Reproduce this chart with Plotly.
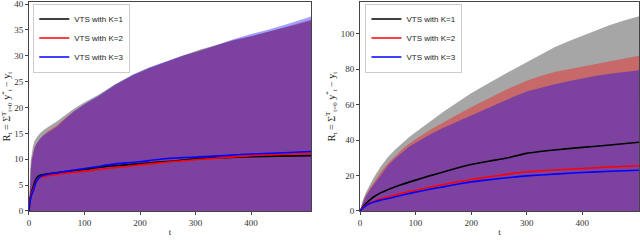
import plotly.graph_objects as go

# ---------------- data: left panel ----------------
t_a = [0, 1, 2, 3.5, 5, 7.5, 10, 15, 20, 27, 35, 50, 65, 80, 100, 126, 155, 187, 217, 247, 278, 308, 338, 368, 400, 429, 470, 508]
upper_k1_a = [0, 5, 8, 10, 11.5, 12.7, 13.5, 14.4, 15, 15.7, 16.3, 17.3, 18.5, 19.7, 21.0, 22.5, 24.5, 26.3, 27.7, 28.9, 30.1, 31.2, 32.1, 33, 33.8, 34.6, 35.7, 36.8]
upper_k2_a = [0, 3.5, 6, 8.2, 10, 11.3, 12.3, 13.3, 14, 14.8, 15.5, 16.5, 17.9, 19.2, 20.6, 22.2, 24.3, 26.2, 27.6, 28.8, 30.0, 31, 32.0, 33, 33.8, 34.6, 35.8, 37]
upper_k3_a = [0, 3.5, 6, 8.0, 9.8, 11.2, 12.2, 13.2, 14, 14.7, 15.3, 16.3, 17.8, 19.2, 20.7, 22.3, 24.4, 26.4, 27.8, 29.0, 30.1, 31.0, 32.1, 33.2, 34.2, 35, 36.3, 37.6]

tl_a = [0, 2, 5, 8, 11, 14, 18, 23, 35, 52, 75, 100, 125, 148, 175, 200, 228, 255, 300, 350, 400, 450, 508]
mean_k1_a = [0, 2.5, 3.8, 4.8, 5.8, 6.4, 6.8, 7.0, 7.2, 7.4, 7.7, 8.0, 8.4, 8.7, 8.9, 9.1, 9.4, 9.6, 10.1, 10.3, 10.5, 10.6, 10.7]
mean_k2_a = [0, 2.0, 3.5, 4.3, 5.2, 5.9, 6.3, 6.6, 6.8, 7.1, 7.4, 7.7, 8.0, 8.3, 8.6, 8.9, 9.2, 9.5, 9.9, 10.3, 10.7, 10.9, 11.1]
mean_k3_a = [0, 1.8, 3.2, 3.9, 5.0, 5.8, 6.4, 6.8, 7.1, 7.4, 7.8, 8.2, 8.6, 9.0, 9.3, 9.5, 9.9, 10.2, 10.4, 10.7, 11.0, 11.2, 11.5]

# ---------------- data: right panel ----------------
t_b = [0, 5, 10, 17, 25, 37, 50, 62, 75, 87, 100, 125, 150, 175, 200, 225, 250, 275, 300, 325, 350, 375, 400, 425, 450, 475, 502]
upper_k1_b = [0, 6, 10, 14.5, 19, 25, 30.3, 34.3, 38, 41.3, 44.5, 50.5, 56, 61.3, 66.5, 71, 75.5, 79.8, 84, 88.3, 92.4, 95.8, 99, 102, 105, 107.6, 110]
upper_k2_b = [0, 5, 8.5, 12.5, 16, 21.8, 27, 30.8, 34.5, 37.6, 40.5, 45.5, 50, 54.3, 58.5, 62.6, 66.5, 70.2, 73.5, 76.2, 78.5, 80.0, 81.3, 83, 84.5, 86, 87.6]
upper_k3_b = [0, 4.5, 8, 11.6, 15, 20.4, 25.5, 29.4, 33, 35.9, 38.5, 43, 47, 50.5, 54, 57.6, 61, 64.3, 67.5, 69.6, 71.5, 73.3, 75, 76.3, 77.5, 78.5, 79.5]

tl_b = [0, 5, 10, 17, 25, 37, 51, 75, 100, 125, 150, 175, 200, 234, 260, 300, 350, 400, 450, 502]
mean_k1_b = [0, 2.2, 4, 6, 8, 10.2, 12.1, 14.9, 17.4, 19.8, 22, 24.2, 26.2, 28.2, 29.6, 32.5, 34.4, 35.9, 37.2, 38.8]
mean_k2_b = [0, 1.7, 3, 4.3, 5.5, 6.8, 7.9, 9.9, 11.7, 13.4, 14.9, 16.4, 17.7, 19.3, 20.5, 22.1, 23.1, 24, 24.8, 25.5]
mean_k3_b = [0, 1.5, 2.8, 4.0, 5, 6.1, 7, 8.9, 10.6, 12.2, 13.6, 15.1, 16.4, 17.7, 18.6, 19.8, 20.8, 21.7, 22.4, 23]

names = ["VTS with K=1", "VTS with K=2", "VTS with K=3"]
line_colors = ["#000000", "#ff0000", "#0000ff"]
fill_colors = ["rgba(0,0,0,0.35)", "rgba(255,0,0,0.37)", "rgba(0,0,255,0.37)"]

fig = go.Figure()

panels = [
    (t_a, [upper_k1_a, upper_k2_a, upper_k3_a], tl_a, [mean_k1_a, mean_k2_a, mean_k3_a], "x", "y", "legend"),
    (t_b, [upper_k1_b, upper_k2_b, upper_k3_b], tl_b, [mean_k1_b, mean_k2_b, mean_k3_b], "x2", "y2", "legend2"),
]

for tb, uppers, tl, means, xa, ya, lg in panels:
    for up, fc in zip(uppers, fill_colors):
        fig.add_trace(go.Scatter(x=tb, y=up, mode="lines", line=dict(width=0),
                                 fill="tozeroy", fillcolor=fc, showlegend=False, hoverinfo="skip",
                                 xaxis=xa, yaxis=ya))
    for m, nm, lc in zip(means, names, line_colors):
        fig.add_trace(go.Scatter(x=tl, y=m, mode="lines", name=nm,
                                 line=dict(color=lc, width=1.6, shape="spline", smoothing=0.5),
                                 xaxis=xa, yaxis=ya, legend=lg))

tickfont = dict(family="Liberation Serif, DejaVu Serif, serif", size=9, color="#333")
ytitle = "R<sub>t</sub> = Σ<sup>T</sup><sub>t=0</sub> y<sup>*</sup><sub>t</sub> − y<sub>t</sub>"
ytitle_font = dict(family="Liberation Serif, serif", size=10, color="#222")
xtitle_font = dict(family="Liberation Serif, serif", size=9, color="#222")

axis_common = dict(showline=True, mirror=True, linecolor="#444", linewidth=1, ticks="outside",
                   ticklen=3, tickcolor="#444", showgrid=False, zeroline=False, tickfont=tickfont,
                   automargin=False)

legend_common = dict(bgcolor="rgba(255,255,255,0.9)", bordercolor="#cccccc", borderwidth=1,
                     font=dict(family="Liberation Sans, Arial, sans-serif", size=8, color="#222"),
                     itemwidth=30, tracegroupgap=0, xanchor="left", yanchor="top")

fig.update_layout(
    width=640, height=252,
    margin=dict(l=0, r=0, t=0, b=0, autoexpand=False),
    paper_bgcolor="white", plot_bgcolor="white",
    xaxis=dict(domain=[0.0453, 0.486], range=[0, 508], tickvals=[0, 100, 200, 300, 400],
               title=dict(text="t", font=xtitle_font, standoff=1), **axis_common),
    yaxis=dict(domain=[0.163, 0.992], range=[0, 40.4], tickvals=[0, 5, 10, 15, 20, 25, 30, 35, 40],
               title=dict(text=ytitle, font=ytitle_font, standoff=3),
               ticklabeloverflow="allow", **axis_common),
    xaxis2=dict(domain=[0.5625, 0.9984], range=[0, 502], tickvals=[0, 100, 200, 300, 400], anchor="y2",
                title=dict(text="t", font=xtitle_font, standoff=1), **axis_common),
    yaxis2=dict(domain=[0.163, 0.992], range=[0, 118], tickvals=[0, 20, 40, 60, 80, 100], anchor="x2",
                title=dict(text=ytitle, font=ytitle_font, standoff=3), **axis_common),
    legend=dict(x=0.052, y=0.986, **legend_common),
    legend2=dict(x=0.571, y=0.986, **legend_common),
)

fig.write_html("out.html", config={"displayModeBar": False},
               post_script="document.body.style.margin='0';document.body.style.overflow='hidden';")
